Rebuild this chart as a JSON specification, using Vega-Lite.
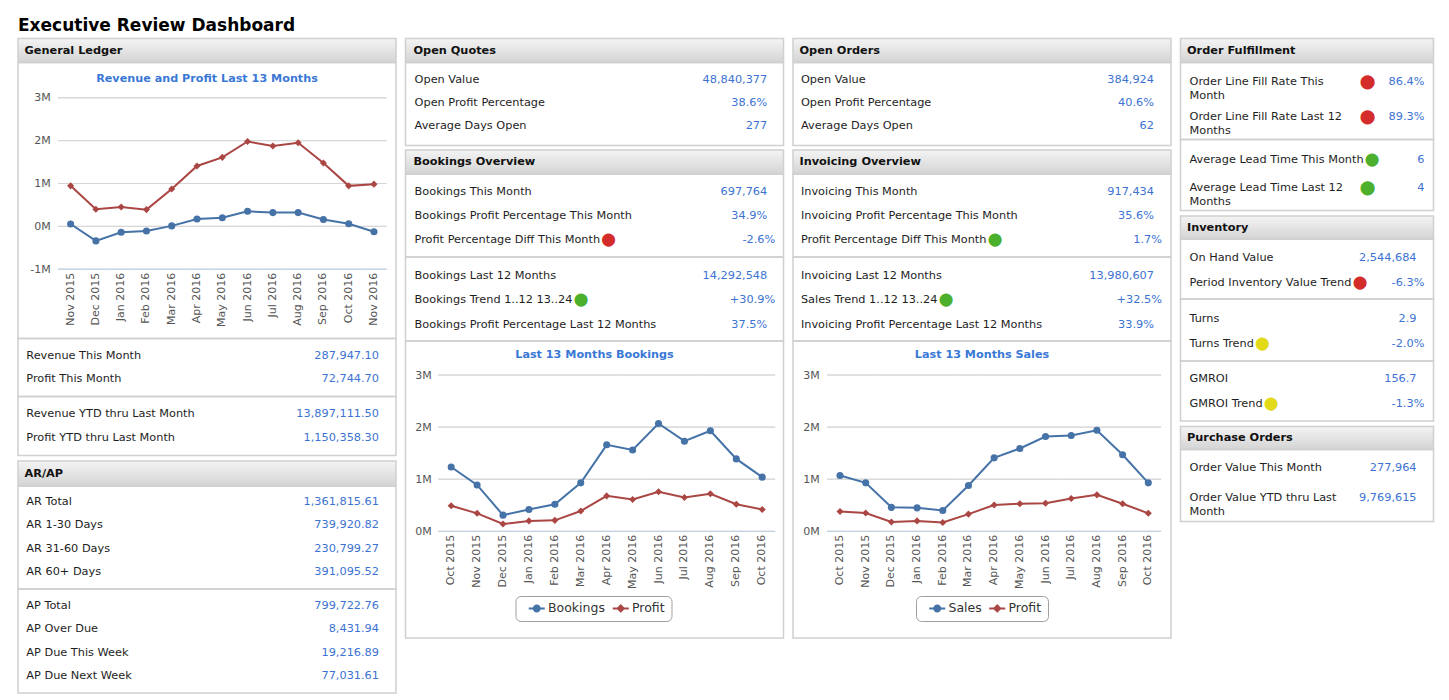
{
"$schema": "https://vega.github.io/schema/vega-lite/v6.json",
"background": "#ffffff",
"padding": {"left": 17, "top": 16.5, "right": 5, "bottom": 5},
"title": {"text": "Executive Review Dashboard", "anchor": "start", "frame": "group", "fontSize": 17, "font": "DejaVu Sans", "fontWeight": "bold", "color": "#000000", "offset": 2.5},
"config": {
  "view": {"stroke": "#d0d0d0", "strokeWidth": 1.5},
  "font": "DejaVu Sans",
  "text": {"font": "DejaVu Sans", "fontSize": 11.3, "baseline": "middle", "lineHeight": 14, "lineBreak": "\n"},
  "axis": {"labelFont": "DejaVu Sans", "labelFontSize": 11, "labelColor": "#555555"}
},
"datasets": {
  "gl": [
    {"m":"Nov 2015","s":"Profit","v":55000},{"m":"Nov 2015","s":"Revenue","v":945000},
    {"m":"Dec 2015","s":"Profit","v":-340000},{"m":"Dec 2015","s":"Revenue","v":400000},
    {"m":"Jan 2016","s":"Profit","v":-140000},{"m":"Jan 2016","s":"Revenue","v":450000},
    {"m":"Feb 2016","s":"Profit","v":-110000},{"m":"Feb 2016","s":"Revenue","v":390000},
    {"m":"Mar 2016","s":"Profit","v":10000},{"m":"Mar 2016","s":"Revenue","v":870000},
    {"m":"Apr 2016","s":"Profit","v":170000},{"m":"Apr 2016","s":"Revenue","v":1410000},
    {"m":"May 2016","s":"Profit","v":200000},{"m":"May 2016","s":"Revenue","v":1610000},
    {"m":"Jun 2016","s":"Profit","v":350000},{"m":"Jun 2016","s":"Revenue","v":1980000},
    {"m":"Jul 2016","s":"Profit","v":320000},{"m":"Jul 2016","s":"Revenue","v":1875000},
    {"m":"Aug 2016","s":"Profit","v":320000},{"m":"Aug 2016","s":"Revenue","v":1950000},
    {"m":"Sep 2016","s":"Profit","v":160000},{"m":"Sep 2016","s":"Revenue","v":1480000},
    {"m":"Oct 2016","s":"Profit","v":60000},{"m":"Oct 2016","s":"Revenue","v":945000},
    {"m":"Nov 2016","s":"Profit","v":-125000},{"m":"Nov 2016","s":"Revenue","v":985000}
  ],
  "bk": [
    {"m":"Oct 2015","s":"Bookings","v":1235000},{"m":"Oct 2015","s":"Profit","v":490000},
    {"m":"Nov 2015","s":"Bookings","v":890000},{"m":"Nov 2015","s":"Profit","v":345000},
    {"m":"Dec 2015","s":"Bookings","v":310000},{"m":"Dec 2015","s":"Profit","v":140000},
    {"m":"Jan 2016","s":"Bookings","v":420000},{"m":"Jan 2016","s":"Profit","v":200000},
    {"m":"Feb 2016","s":"Bookings","v":520000},{"m":"Feb 2016","s":"Profit","v":210000},
    {"m":"Mar 2016","s":"Bookings","v":930000},{"m":"Mar 2016","s":"Profit","v":390000},
    {"m":"Apr 2016","s":"Bookings","v":1660000},{"m":"Apr 2016","s":"Profit","v":680000},
    {"m":"May 2016","s":"Bookings","v":1560000},{"m":"May 2016","s":"Profit","v":610000},
    {"m":"Jun 2016","s":"Bookings","v":2070000},{"m":"Jun 2016","s":"Profit","v":760000},
    {"m":"Jul 2016","s":"Bookings","v":1730000},{"m":"Jul 2016","s":"Profit","v":650000},
    {"m":"Aug 2016","s":"Bookings","v":1930000},{"m":"Aug 2016","s":"Profit","v":720000},
    {"m":"Sep 2016","s":"Bookings","v":1390000},{"m":"Sep 2016","s":"Profit","v":520000},
    {"m":"Oct 2016","s":"Bookings","v":1040000},{"m":"Oct 2016","s":"Profit","v":420000}
  ],
  "sl": [
    {"m":"Oct 2015","s":"Sales","v":1070000},{"m":"Oct 2015","s":"Profit","v":380000},
    {"m":"Nov 2015","s":"Sales","v":930000},{"m":"Nov 2015","s":"Profit","v":350000},
    {"m":"Dec 2015","s":"Sales","v":460000},{"m":"Dec 2015","s":"Profit","v":180000},
    {"m":"Jan 2016","s":"Sales","v":450000},{"m":"Jan 2016","s":"Profit","v":200000},
    {"m":"Feb 2016","s":"Sales","v":400000},{"m":"Feb 2016","s":"Profit","v":170000},
    {"m":"Mar 2016","s":"Sales","v":880000},{"m":"Mar 2016","s":"Profit","v":330000},
    {"m":"Apr 2016","s":"Sales","v":1410000},{"m":"Apr 2016","s":"Profit","v":505000},
    {"m":"May 2016","s":"Sales","v":1590000},{"m":"May 2016","s":"Profit","v":530000},
    {"m":"Jun 2016","s":"Sales","v":1820000},{"m":"Jun 2016","s":"Profit","v":540000},
    {"m":"Jul 2016","s":"Sales","v":1840000},{"m":"Jul 2016","s":"Profit","v":630000},
    {"m":"Aug 2016","s":"Sales","v":1940000},{"m":"Aug 2016","s":"Profit","v":700000},
    {"m":"Sep 2016","s":"Sales","v":1470000},{"m":"Sep 2016","s":"Profit","v":530000},
    {"m":"Oct 2016","s":"Sales","v":930000},{"m":"Oct 2016","s":"Profit","v":345000}
  ],
  "kv": [
    {"sec":"gl2","row":1,"label":"Revenue This Month","value":"287,947.10"},
    {"sec":"gl2","row":2,"label":"Profit This Month","value":"72,744.70"},
    {"sec":"gl3","row":1,"label":"Revenue YTD thru Last Month","value":"13,897,111.50"},
    {"sec":"gl3","row":2,"label":"Profit YTD thru Last Month","value":"1,150,358.30"},
    {"sec":"ar1","row":1,"label":"AR Total","value":"1,361,815.61"},
    {"sec":"ar1","row":2,"label":"AR 1-30 Days","value":"739,920.82"},
    {"sec":"ar1","row":3,"label":"AR 31-60 Days","value":"230,799.27"},
    {"sec":"ar1","row":4,"label":"AR 60+ Days","value":"391,095.52"},
    {"sec":"ar2","row":1,"label":"AP Total","value":"799,722.76"},
    {"sec":"ar2","row":2,"label":"AP Over Due","value":"8,431.94"},
    {"sec":"ar2","row":3,"label":"AP Due This Week","value":"19,216.89"},
    {"sec":"ar2","row":4,"label":"AP Due Next Week","value":"77,031.61"},
    {"sec":"oq1","row":1,"label":"Open Value","value":"48,840,377"},
    {"sec":"oq1","row":2,"label":"Open Profit Percentage","value":"38.6%"},
    {"sec":"oq1","row":3,"label":"Average Days Open","value":"277"},
    {"sec":"bo1","row":1,"label":"Bookings This Month","value":"697,764"},
    {"sec":"bo1","row":2,"label":"Bookings Profit Percentage This Month","value":"34.9%"},
    {"sec":"bo1","row":3,"label":"Profit Percentage Diff This Month","value":"-2.6%","status":"red"},
    {"sec":"bo2","row":1,"label":"Bookings Last 12 Months","value":"14,292,548"},
    {"sec":"bo2","row":2,"label":"Bookings Trend 1..12 13..24","value":"+30.9%","status":"green"},
    {"sec":"bo2","row":3,"label":"Bookings Profit Percentage Last 12 Months","value":"37.5%"},
    {"sec":"oo1","row":1,"label":"Open Value","value":"384,924"},
    {"sec":"oo1","row":2,"label":"Open Profit Percentage","value":"40.6%"},
    {"sec":"oo1","row":3,"label":"Average Days Open","value":"62"},
    {"sec":"io1","row":1,"label":"Invoicing This Month","value":"917,434"},
    {"sec":"io1","row":2,"label":"Invoicing Profit Percentage This Month","value":"35.6%"},
    {"sec":"io1","row":3,"label":"Profit Percentage Diff This Month","value":"1.7%","status":"green"},
    {"sec":"io2","row":1,"label":"Invoicing Last 12 Months","value":"13,980,607"},
    {"sec":"io2","row":2,"label":"Sales Trend 1..12 13..24","value":"+32.5%","status":"green"},
    {"sec":"io2","row":3,"label":"Invoicing Profit Percentage Last 12 Months","value":"33.9%"},
    {"sec":"of1","row":1,"label":"Order Line Fill Rate This\nMonth","value":"86.4%","status":"red"},
    {"sec":"of1","row":2,"label":"Order Line Fill Rate Last 12\nMonths","value":"89.3%","status":"red"},
    {"sec":"of2","row":1,"label":"Average Lead Time This Month","value":"6","status":"green"},
    {"sec":"of2","row":2,"label":"Average Lead Time Last 12\nMonths","value":"4","status":"green"},
    {"sec":"in1","row":1,"label":"On Hand Value","value":"2,544,684"},
    {"sec":"in1","row":2,"label":"Period Inventory Value Trend","value":"-6.3%","status":"red"},
    {"sec":"in2","row":1,"label":"Turns","value":"2.9"},
    {"sec":"in2","row":2,"label":"Turns Trend","value":"-2.0%","status":"yellow"},
    {"sec":"in3","row":1,"label":"GMROI","value":"156.7"},
    {"sec":"in3","row":2,"label":"GMROI Trend","value":"-1.3%","status":"yellow"},
    {"sec":"po1","row":1,"label":"Order Value This Month","value":"277,964"},
    {"sec":"po1","row":2,"label":"Order Value YTD thru Last\nMonth","value":"9,769,615"}
  ]
},
"spacing": 7.5,
"resolve": {"scale": {"color": "independent", "shape": "independent", "stroke": "independent"}, "legend": {"color": "independent", "shape": "independent", "stroke": "independent"}},
"hconcat": [
  {"spacing": 3.5, "resolve": {"scale": {"color": "independent", "shape": "independent", "stroke": "independent"}, "legend": {"color": "independent", "shape": "independent", "stroke": "independent"}}, "vconcat": [
    {"bounds": "flush", "spacing": 0, "resolve": {"scale": {"color": "independent", "shape": "independent", "stroke": "independent"}, "legend": {"color": "independent", "shape": "independent", "stroke": "independent"}}, "vconcat": [
      {"width": 378, "height": 24, "data": {"values": [{"h": "General Ledger"}]},
       "view": {"fill": {"gradient": "linear", "x1": 0, "y1": 0, "x2": 0, "y2": 1, "stops": [{"offset": 0, "color": "#f4f4f4"}, {"offset": 1, "color": "#d4d4d4"}]}},
       "mark": {"type": "text", "align": "left", "baseline": "middle", "fontWeight": "bold", "fontSize": 11.3, "color": "#111111"},
       "encoding": {"text": {"field": "h"}, "x": {"datum": 1.72, "type": "quantitative", "scale": {"domain": [0, 100], "nice": false}, "axis": null}}},
      {"width": 378, "height": 276, "data": {"name": "gl"},
       "title": {"text": "Revenue and Profit Last 13 Months", "offset": -28, "baseline": "middle", "frame": "group", "anchor": "middle", "color": "#3a78d6", "fontSize": 11.2, "fontWeight": "bold", "font": "DejaVu Sans"},
       "encoding": {
         "x": {"field": "m", "type": "ordinal", "sort": null,
               "scale": {"type": "band", "paddingInner": 0, "paddingOuter": 0.976, "align": 0.81},
               "axis": {"orient": "bottom", "offset": -69.3, "labelAngle": -90, "domain": false, "ticks": false, "labelPadding": 3, "title": null, "grid": false, "labelOverlap": false}},
         "y": {"field": "v", "type": "quantitative", "scale": {"domain": [-2619000, 3825000], "nice": false, "zero": false},
               "axis": {"orient": "left", "offset": -40, "values": [-1000000, 0, 1000000, 2000000, 3000000], "labelExpr": "(datum.value / 1000000) + 'M'", "grid": false, "domain": false, "ticks": false, "labelPadding": 7.7, "title": null}}
       },
       "layer": [
         {"transform": [{"filter": "datum.s === 'Profit'"}], "mark": {"type": "bar", "filled": false, "color": "#d6d6d6", "strokeWidth": 1}, "encoding": {"y": {"datum": 0}, "y2": {"datum": 0}}},
         {"transform": [{"filter": "datum.s === 'Profit'"}], "mark": {"type": "bar", "filled": false, "color": "#d6d6d6", "strokeWidth": 1}, "encoding": {"y": {"datum": 1000000}, "y2": {"datum": 1000000}}},
         {"transform": [{"filter": "datum.s === 'Profit'"}], "mark": {"type": "bar", "filled": false, "color": "#d6d6d6", "strokeWidth": 1}, "encoding": {"y": {"datum": 2000000}, "y2": {"datum": 2000000}}},
         {"transform": [{"filter": "datum.s === 'Profit'"}], "mark": {"type": "bar", "filled": false, "color": "#d6d6d6", "strokeWidth": 1}, "encoding": {"y": {"datum": 3000000}, "y2": {"datum": 3000000}}},
         {"transform": [{"filter": "datum.s === 'Profit'"}], "mark": {"type": "bar", "filled": false, "color": "#c0d0e0", "strokeWidth": 1}, "encoding": {"y": {"datum": -1000000}, "y2": {"datum": -1000000}}},
         {"mark": {"type": "line", "strokeWidth": 2}, "encoding": {"color": {"field": "s", "type": "nominal", "scale": {"domain": ["Profit", "Revenue"], "range": ["#4572A7", "#AA4643"]}, "legend": null}}},
         {"mark": {"type": "point", "filled": true, "size": 50, "opacity": 1}, "encoding": {"color": {"field": "s", "type": "nominal", "legend": null}, "shape": {"field": "s", "type": "nominal", "scale": {"domain": ["Profit", "Revenue"], "range": ["circle", "diamond"]}, "legend": null}}}
       ]},
      {"width": 378, "height": 58, "data": {"name": "kv"}, "transform": [{"filter": "datum.sec === 'gl2'"}],
       "encoding": {"y": {"field": "row", "type": "ordinal", "scale": {"type": "point", "padding": 0.761, "align": 0.514}, "axis": null}},
       "layer": [
         {"mark": {"type": "text", "align": "left", "color": "#1e1e1e"}, "encoding": {"x": {"datum": 2.2, "type": "quantitative", "scale": {"domain": [0, 100], "nice": false}, "axis": null}, "text": {"field": "label"}}},
         {"mark": {"type": "text", "align": "right", "color": "#3c72d2"}, "encoding": {"x": {"datum": 95.5, "type": "quantitative", "scale": {"domain": [0, 100], "nice": false}, "axis": null}, "text": {"field": "value"}}}
       ]},
      {"width": 378, "height": 59, "data": {"name": "kv"}, "transform": [{"filter": "datum.sec === 'gl3'"}],
       "encoding": {"y": {"field": "row", "type": "ordinal", "scale": {"type": "point", "padding": 0.729, "align": 0.486}, "axis": null}},
       "layer": [
         {"mark": {"type": "text", "align": "left", "color": "#1e1e1e"}, "encoding": {"x": {"datum": 2.2, "type": "quantitative", "scale": {"domain": [0, 100], "nice": false}, "axis": null}, "text": {"field": "label"}}},
         {"mark": {"type": "text", "align": "right", "color": "#3c72d2"}, "encoding": {"x": {"datum": 95.5, "type": "quantitative", "scale": {"domain": [0, 100], "nice": false}, "axis": null}, "text": {"field": "value"}}}
       ]}
    ]},
    {"bounds": "flush", "spacing": 0, "vconcat": [
      {"width": 378, "height": 25, "data": {"values": [{"h": "AR/AP"}]},
       "view": {"fill": {"gradient": "linear", "x1": 0, "y1": 0, "x2": 0, "y2": 1, "stops": [{"offset": 0, "color": "#f4f4f4"}, {"offset": 1, "color": "#d4d4d4"}]}},
       "mark": {"type": "text", "align": "left", "baseline": "middle", "fontWeight": "bold", "fontSize": 11.3, "color": "#111111"},
       "encoding": {"text": {"field": "h"}, "x": {"datum": 1.72, "type": "quantitative", "scale": {"domain": [0, 100], "nice": false}, "axis": null}}},
      {"width": 378, "height": 103, "data": {"name": "kv"}, "transform": [{"filter": "datum.sec === 'ar1'"}],
       "encoding": {"y": {"field": "row", "type": "ordinal", "scale": {"type": "point", "padding": 0.707, "align": 0.485}, "axis": null}},
       "layer": [
         {"mark": {"type": "text", "align": "left", "color": "#1e1e1e"}, "encoding": {"x": {"datum": 2.2, "type": "quantitative", "scale": {"domain": [0, 100], "nice": false}, "axis": null}, "text": {"field": "label"}}},
         {"mark": {"type": "text", "align": "right", "color": "#3c72d2"}, "encoding": {"x": {"datum": 95.5, "type": "quantitative", "scale": {"domain": [0, 100], "nice": false}, "axis": null}, "text": {"field": "value"}}}
       ]},
      {"width": 378, "height": 104, "data": {"name": "kv"}, "transform": [{"filter": "datum.sec === 'ar2'"}],
       "encoding": {"y": {"field": "row", "type": "ordinal", "scale": {"type": "point", "padding": 0.729, "align": 0.5}, "axis": null}},
       "layer": [
         {"mark": {"type": "text", "align": "left", "color": "#1e1e1e"}, "encoding": {"x": {"datum": 2.2, "type": "quantitative", "scale": {"domain": [0, 100], "nice": false}, "axis": null}, "text": {"field": "label"}}},
         {"mark": {"type": "text", "align": "right", "color": "#3c72d2"}, "encoding": {"x": {"datum": 95.5, "type": "quantitative", "scale": {"domain": [0, 100], "nice": false}, "axis": null}, "text": {"field": "value"}}}
       ]}
    ]}
  ]},
  {"spacing": 2.5, "resolve": {"scale": {"color": "independent", "shape": "independent", "stroke": "independent"}, "legend": {"color": "independent", "shape": "independent", "stroke": "independent"}}, "vconcat": [
    {"bounds": "flush", "spacing": 0, "vconcat": [
      {"width": 378, "height": 24, "data": {"values": [{"h": "Open Quotes"}]},
       "view": {"fill": {"gradient": "linear", "x1": 0, "y1": 0, "x2": 0, "y2": 1, "stops": [{"offset": 0, "color": "#f4f4f4"}, {"offset": 1, "color": "#d4d4d4"}]}},
       "mark": {"type": "text", "align": "left", "baseline": "middle", "fontWeight": "bold", "fontSize": 11.3, "color": "#111111"},
       "encoding": {"text": {"field": "h"}, "x": {"datum": 2.1, "type": "quantitative", "scale": {"domain": [0, 100], "nice": false}, "axis": null}}},
      {"width": 378, "height": 83, "data": {"name": "kv"}, "transform": [{"filter": "datum.sec === 'oq1'"}],
       "encoding": {"y": {"field": "row", "type": "ordinal", "scale": {"type": "point", "padding": 0.789, "align": 0.473}, "axis": null}},
       "layer": [
         {"mark": {"type": "text", "align": "left", "color": "#1e1e1e"}, "encoding": {"x": {"datum": 2.4, "type": "quantitative", "scale": {"domain": [0, 100], "nice": false}, "axis": null}, "text": {"field": "label"}}},
         {"mark": {"type": "text", "align": "right", "color": "#3c72d2"}, "encoding": {"x": {"datum": 95.7, "type": "quantitative", "scale": {"domain": [0, 100], "nice": false}, "axis": null}, "text": {"field": "value"}}}
       ]}
    ]},
    {"bounds": "flush", "spacing": 0, "resolve": {"scale": {"color": "independent", "shape": "independent", "stroke": "independent"}, "legend": {"color": "independent", "shape": "independent", "stroke": "independent"}}, "vconcat": [
      {"width": 378, "height": 24, "data": {"values": [{"h": "Bookings Overview"}]},
       "view": {"fill": {"gradient": "linear", "x1": 0, "y1": 0, "x2": 0, "y2": 1, "stops": [{"offset": 0, "color": "#f4f4f4"}, {"offset": 1, "color": "#d4d4d4"}]}},
       "mark": {"type": "text", "align": "left", "baseline": "middle", "fontWeight": "bold", "fontSize": 11.3, "color": "#111111"},
       "encoding": {"text": {"field": "h"}, "x": {"datum": 2.1, "type": "quantitative", "scale": {"domain": [0, 100], "nice": false}, "axis": null}}},
      {"width": 378, "height": 83, "data": {"name": "kv"}, "transform": [{"filter": "datum.sec === 'bo1'"}],
       "encoding": {"y": {"field": "row", "type": "ordinal", "scale": {"type": "point", "padding": 0.751, "align": 0.514}, "axis": null}},
       "layer": [
         {"transform": [{"filter": "isValid(datum.status)"}, {"calculate": "datum.label + '\u2009\u2b24'", "as": "t"}], "mark": {"type": "text", "align": "left", "strokeWidth": 1.6}, "encoding": {"x": {"datum": 2.4, "type": "quantitative", "scale": {"domain": [0, 100], "nice": false}, "axis": null}, "text": {"field": "t"}, "color": {"field": "status", "type": "nominal", "scale": {"domain": ["red", "green", "yellow"], "range": ["#d42b2b", "#4cb02c", "#e2da18"]}, "legend": null}, "stroke": {"field": "status", "type": "nominal", "scale": {"domain": ["red", "green", "yellow"], "range": ["#d42b2b", "#4cb02c", "#e2da18"]}, "legend": null}}},
         {"transform": [{"filter": "isValid(datum.status)"}], "mark": {"type": "text", "align": "left", "fill": "#ffffff", "stroke": "#ffffff", "strokeWidth": 3}, "encoding": {"x": {"datum": 2.4, "type": "quantitative", "scale": {"domain": [0, 100], "nice": false}, "axis": null}, "text": {"field": "label"}}},
         {"mark": {"type": "text", "align": "left", "color": "#1e1e1e"}, "encoding": {"x": {"datum": 2.4, "type": "quantitative", "scale": {"domain": [0, 100], "nice": false}, "axis": null}, "text": {"field": "label"}}},
         {"transform": [{"filter": "!isValid(datum.status)"}], "mark": {"type": "text", "align": "right", "color": "#3c72d2"}, "encoding": {"x": {"datum": 95.7, "type": "quantitative", "scale": {"domain": [0, 100], "nice": false}, "axis": null}, "text": {"field": "value"}}},
         {"transform": [{"filter": "isValid(datum.status)"}], "mark": {"type": "text", "align": "right", "color": "#3c72d2"}, "encoding": {"x": {"datum": 97.8, "type": "quantitative", "scale": {"domain": [0, 100], "nice": false}, "axis": null}, "text": {"field": "value"}}}
       ]},
      {"width": 378, "height": 84, "data": {"name": "kv"}, "transform": [{"filter": "datum.sec === 'bo2'"}],
       "encoding": {"y": {"field": "row", "type": "ordinal", "scale": {"type": "point", "padding": 0.704, "align": 0.539}, "axis": null}},
       "layer": [
         {"transform": [{"filter": "isValid(datum.status)"}, {"calculate": "datum.label + '\u2009\u2b24'", "as": "t"}], "mark": {"type": "text", "align": "left", "strokeWidth": 1.6}, "encoding": {"x": {"datum": 2.4, "type": "quantitative", "scale": {"domain": [0, 100], "nice": false}, "axis": null}, "text": {"field": "t"}, "color": {"field": "status", "type": "nominal", "scale": {"domain": ["red", "green", "yellow"], "range": ["#d42b2b", "#4cb02c", "#e2da18"]}, "legend": null}, "stroke": {"field": "status", "type": "nominal", "scale": {"domain": ["red", "green", "yellow"], "range": ["#d42b2b", "#4cb02c", "#e2da18"]}, "legend": null}}},
         {"transform": [{"filter": "isValid(datum.status)"}], "mark": {"type": "text", "align": "left", "fill": "#ffffff", "stroke": "#ffffff", "strokeWidth": 3}, "encoding": {"x": {"datum": 2.4, "type": "quantitative", "scale": {"domain": [0, 100], "nice": false}, "axis": null}, "text": {"field": "label"}}},
         {"mark": {"type": "text", "align": "left", "color": "#1e1e1e"}, "encoding": {"x": {"datum": 2.4, "type": "quantitative", "scale": {"domain": [0, 100], "nice": false}, "axis": null}, "text": {"field": "label"}}},
         {"transform": [{"filter": "!isValid(datum.status)"}], "mark": {"type": "text", "align": "right", "color": "#3c72d2"}, "encoding": {"x": {"datum": 95.7, "type": "quantitative", "scale": {"domain": [0, 100], "nice": false}, "axis": null}, "text": {"field": "value"}}},
         {"transform": [{"filter": "isValid(datum.status)"}], "mark": {"type": "text", "align": "right", "color": "#3c72d2"}, "encoding": {"x": {"datum": 97.8, "type": "quantitative", "scale": {"domain": [0, 100], "nice": false}, "axis": null}, "text": {"field": "value"}}}
       ]},
      {"width": 378, "height": 297, "data": {"name": "bk"},
       "title": {"text": "Last 13 Months Bookings", "offset": -25, "baseline": "middle", "frame": "group", "anchor": "middle", "color": "#3a78d6", "fontSize": 11.2, "fontWeight": "bold", "font": "DejaVu Sans"},
       "encoding": {
         "x": {"field": "m", "type": "ordinal", "sort": null,
               "scale": {"type": "band", "paddingInner": 0, "paddingOuter": 0.792, "align": 0.797},
               "axis": {"orient": "bottom", "offset": -106.7, "labelAngle": -90, "domain": false, "ticks": false, "labelPadding": 3, "title": null, "grid": false, "labelOverlap": false}},
         "y": {"field": "v", "type": "quantitative", "scale": {"domain": [-2048000, 3653000], "nice": false, "zero": false},
               "axis": {"orient": "left", "offset": -32.7, "values": [0, 1000000, 2000000, 3000000], "labelExpr": "(datum.value / 1000000) + 'M'", "grid": false, "domain": false, "ticks": false, "labelPadding": 7, "title": null}}
       },
       "layer": [
         {"transform": [{"filter": "datum.s === 'Profit'"}], "mark": {"type": "bar", "filled": false, "color": "#d6d6d6", "strokeWidth": 1}, "encoding": {"y": {"datum": 1000000}, "y2": {"datum": 1000000}}},
         {"transform": [{"filter": "datum.s === 'Profit'"}], "mark": {"type": "bar", "filled": false, "color": "#d6d6d6", "strokeWidth": 1}, "encoding": {"y": {"datum": 2000000}, "y2": {"datum": 2000000}}},
         {"transform": [{"filter": "datum.s === 'Profit'"}], "mark": {"type": "bar", "filled": false, "color": "#d6d6d6", "strokeWidth": 1}, "encoding": {"y": {"datum": 3000000}, "y2": {"datum": 3000000}}},
         {"transform": [{"filter": "datum.s === 'Profit'"}], "mark": {"type": "bar", "filled": false, "color": "#c0d0e0", "strokeWidth": 1}, "encoding": {"y": {"datum": 0}, "y2": {"datum": 0}}},
         {"transform": [{"filter": "false"}], "mark": {"type": "point", "filled": true, "opacity": 1},
          "encoding": {
            "color": {"field": "s", "type": "nominal", "scale": {"domain": ["Bookings", "Profit"], "range": ["#4572A7", "#AA4643"]}, "legend": {"orient": "none", "legendX": 110, "legendY": 255, "direction": "horizontal", "title": null, "strokeColor": "#a0a0a0", "cornerRadius": 5, "padding": 6, "fillColor": "#ffffff", "labelFontSize": 12.5, "labelColor": "#333333", "labelFont": "DejaVu Sans", "symbolSize": 64, "symbolStrokeWidth": 0, "symbolOffset": 9, "labelOffset": 5, "columnPadding": 0}},
            "shape": {"field": "s", "type": "nominal", "scale": {"domain": ["Bookings", "Profit"], "range": ["M-2,-0.25H2V0.25H-2Z M1,0A1,1 0 1,1 -1,0A1,1 0 1,1 1,0Z", "M-2,-0.25H2V0.25H-2Z M0,-1.1L1.1,0L0,1.1L-1.1,0Z"]}, "legend": {"orient": "none", "legendX": 110, "legendY": 255, "direction": "horizontal", "title": null, "strokeColor": "#a0a0a0", "cornerRadius": 5, "padding": 6, "fillColor": "#ffffff", "labelFontSize": 12.5, "labelColor": "#333333", "labelFont": "DejaVu Sans", "symbolSize": 64, "symbolStrokeWidth": 0, "symbolOffset": 9, "labelOffset": 5, "columnPadding": 0}}
          }},
         {"mark": {"type": "line", "strokeWidth": 2}, "encoding": {"color": {"field": "s", "type": "nominal"}}},
         {"transform": [{"filter": "datum.s !== 'Profit'"}], "mark": {"type": "point", "filled": true, "size": 50, "opacity": 1, "shape": "circle"}, "encoding": {"color": {"field": "s", "type": "nominal", "legend": null}}},
         {"transform": [{"filter": "datum.s === 'Profit'"}], "mark": {"type": "point", "filled": true, "size": 50, "opacity": 1, "shape": "diamond"}, "encoding": {"color": {"field": "s", "type": "nominal", "legend": null}}}
       ]}
    ]}
  ]},
  {"spacing": 2.5, "resolve": {"scale": {"color": "independent", "shape": "independent", "stroke": "independent"}, "legend": {"color": "independent", "shape": "independent", "stroke": "independent"}}, "vconcat": [
    {"bounds": "flush", "spacing": 0, "vconcat": [
      {"width": 378, "height": 24, "data": {"values": [{"h": "Open Orders"}]},
       "view": {"fill": {"gradient": "linear", "x1": 0, "y1": 0, "x2": 0, "y2": 1, "stops": [{"offset": 0, "color": "#f4f4f4"}, {"offset": 1, "color": "#d4d4d4"}]}},
       "mark": {"type": "text", "align": "left", "baseline": "middle", "fontWeight": "bold", "fontSize": 11.3, "color": "#111111"},
       "encoding": {"text": {"field": "h"}, "x": {"datum": 1.72, "type": "quantitative", "scale": {"domain": [0, 100], "nice": false}, "axis": null}}},
      {"width": 378, "height": 83, "data": {"name": "kv"}, "transform": [{"filter": "datum.sec === 'oo1'"}],
       "encoding": {"y": {"field": "row", "type": "ordinal", "scale": {"type": "point", "padding": 0.789, "align": 0.473}, "axis": null}},
       "layer": [
         {"mark": {"type": "text", "align": "left", "color": "#1e1e1e"}, "encoding": {"x": {"datum": 2.1, "type": "quantitative", "scale": {"domain": [0, 100], "nice": false}, "axis": null}, "text": {"field": "label"}}},
         {"mark": {"type": "text", "align": "right", "color": "#3c72d2"}, "encoding": {"x": {"datum": 95.5, "type": "quantitative", "scale": {"domain": [0, 100], "nice": false}, "axis": null}, "text": {"field": "value"}}}
       ]}
    ]},
    {"bounds": "flush", "spacing": 0, "resolve": {"scale": {"color": "independent", "shape": "independent", "stroke": "independent"}, "legend": {"color": "independent", "shape": "independent", "stroke": "independent"}}, "vconcat": [
      {"width": 378, "height": 24, "data": {"values": [{"h": "Invoicing Overview"}]},
       "view": {"fill": {"gradient": "linear", "x1": 0, "y1": 0, "x2": 0, "y2": 1, "stops": [{"offset": 0, "color": "#f4f4f4"}, {"offset": 1, "color": "#d4d4d4"}]}},
       "mark": {"type": "text", "align": "left", "baseline": "middle", "fontWeight": "bold", "fontSize": 11.3, "color": "#111111"},
       "encoding": {"text": {"field": "h"}, "x": {"datum": 1.72, "type": "quantitative", "scale": {"domain": [0, 100], "nice": false}, "axis": null}}},
      {"width": 378, "height": 83, "data": {"name": "kv"}, "transform": [{"filter": "datum.sec === 'io1'"}],
       "encoding": {"y": {"field": "row", "type": "ordinal", "scale": {"type": "point", "padding": 0.751, "align": 0.514}, "axis": null}},
       "layer": [
         {"transform": [{"filter": "isValid(datum.status)"}, {"calculate": "datum.label + '\u2009\u2b24'", "as": "t"}], "mark": {"type": "text", "align": "left", "strokeWidth": 1.6}, "encoding": {"x": {"datum": 2.1, "type": "quantitative", "scale": {"domain": [0, 100], "nice": false}, "axis": null}, "text": {"field": "t"}, "color": {"field": "status", "type": "nominal", "scale": {"domain": ["red", "green", "yellow"], "range": ["#d42b2b", "#4cb02c", "#e2da18"]}, "legend": null}, "stroke": {"field": "status", "type": "nominal", "scale": {"domain": ["red", "green", "yellow"], "range": ["#d42b2b", "#4cb02c", "#e2da18"]}, "legend": null}}},
         {"transform": [{"filter": "isValid(datum.status)"}], "mark": {"type": "text", "align": "left", "fill": "#ffffff", "stroke": "#ffffff", "strokeWidth": 3}, "encoding": {"x": {"datum": 2.1, "type": "quantitative", "scale": {"domain": [0, 100], "nice": false}, "axis": null}, "text": {"field": "label"}}},
         {"mark": {"type": "text", "align": "left", "color": "#1e1e1e"}, "encoding": {"x": {"datum": 2.1, "type": "quantitative", "scale": {"domain": [0, 100], "nice": false}, "axis": null}, "text": {"field": "label"}}},
         {"transform": [{"filter": "!isValid(datum.status)"}], "mark": {"type": "text", "align": "right", "color": "#3c72d2"}, "encoding": {"x": {"datum": 95.5, "type": "quantitative", "scale": {"domain": [0, 100], "nice": false}, "axis": null}, "text": {"field": "value"}}},
         {"transform": [{"filter": "isValid(datum.status)"}], "mark": {"type": "text", "align": "right", "color": "#3c72d2"}, "encoding": {"x": {"datum": 97.6, "type": "quantitative", "scale": {"domain": [0, 100], "nice": false}, "axis": null}, "text": {"field": "value"}}}
       ]},
      {"width": 378, "height": 84, "data": {"name": "kv"}, "transform": [{"filter": "datum.sec === 'io2'"}],
       "encoding": {"y": {"field": "row", "type": "ordinal", "scale": {"type": "point", "padding": 0.704, "align": 0.539}, "axis": null}},
       "layer": [
         {"transform": [{"filter": "isValid(datum.status)"}, {"calculate": "datum.label + '\u2009\u2b24'", "as": "t"}], "mark": {"type": "text", "align": "left", "strokeWidth": 1.6}, "encoding": {"x": {"datum": 2.1, "type": "quantitative", "scale": {"domain": [0, 100], "nice": false}, "axis": null}, "text": {"field": "t"}, "color": {"field": "status", "type": "nominal", "scale": {"domain": ["red", "green", "yellow"], "range": ["#d42b2b", "#4cb02c", "#e2da18"]}, "legend": null}, "stroke": {"field": "status", "type": "nominal", "scale": {"domain": ["red", "green", "yellow"], "range": ["#d42b2b", "#4cb02c", "#e2da18"]}, "legend": null}}},
         {"transform": [{"filter": "isValid(datum.status)"}], "mark": {"type": "text", "align": "left", "fill": "#ffffff", "stroke": "#ffffff", "strokeWidth": 3}, "encoding": {"x": {"datum": 2.1, "type": "quantitative", "scale": {"domain": [0, 100], "nice": false}, "axis": null}, "text": {"field": "label"}}},
         {"mark": {"type": "text", "align": "left", "color": "#1e1e1e"}, "encoding": {"x": {"datum": 2.1, "type": "quantitative", "scale": {"domain": [0, 100], "nice": false}, "axis": null}, "text": {"field": "label"}}},
         {"transform": [{"filter": "!isValid(datum.status)"}], "mark": {"type": "text", "align": "right", "color": "#3c72d2"}, "encoding": {"x": {"datum": 95.5, "type": "quantitative", "scale": {"domain": [0, 100], "nice": false}, "axis": null}, "text": {"field": "value"}}},
         {"transform": [{"filter": "isValid(datum.status)"}], "mark": {"type": "text", "align": "right", "color": "#3c72d2"}, "encoding": {"x": {"datum": 97.6, "type": "quantitative", "scale": {"domain": [0, 100], "nice": false}, "axis": null}, "text": {"field": "value"}}}
       ]},
      {"width": 378, "height": 297, "data": {"name": "sl"},
       "title": {"text": "Last 13 Months Sales", "offset": -25, "baseline": "middle", "frame": "group", "anchor": "middle", "color": "#3a78d6", "fontSize": 11.2, "fontWeight": "bold", "font": "DejaVu Sans"},
       "encoding": {
         "x": {"field": "m", "type": "ordinal", "sort": null,
               "scale": {"type": "band", "paddingInner": 0, "paddingOuter": 0.857, "align": 0.776},
               "axis": {"orient": "bottom", "offset": -106.7, "labelAngle": -90, "domain": false, "ticks": false, "labelPadding": 3, "title": null, "grid": false, "labelOverlap": false}},
         "y": {"field": "v", "type": "quantitative", "scale": {"domain": [-2048000, 3653000], "nice": false, "zero": false},
               "axis": {"orient": "left", "offset": -34.15, "values": [0, 1000000, 2000000, 3000000], "labelExpr": "(datum.value / 1000000) + 'M'", "grid": false, "domain": false, "ticks": false, "labelPadding": 8, "title": null}}
       },
       "layer": [
         {"transform": [{"filter": "datum.s === 'Profit'"}], "mark": {"type": "bar", "filled": false, "color": "#d6d6d6", "strokeWidth": 1}, "encoding": {"y": {"datum": 1000000}, "y2": {"datum": 1000000}}},
         {"transform": [{"filter": "datum.s === 'Profit'"}], "mark": {"type": "bar", "filled": false, "color": "#d6d6d6", "strokeWidth": 1}, "encoding": {"y": {"datum": 2000000}, "y2": {"datum": 2000000}}},
         {"transform": [{"filter": "datum.s === 'Profit'"}], "mark": {"type": "bar", "filled": false, "color": "#d6d6d6", "strokeWidth": 1}, "encoding": {"y": {"datum": 3000000}, "y2": {"datum": 3000000}}},
         {"transform": [{"filter": "datum.s === 'Profit'"}], "mark": {"type": "bar", "filled": false, "color": "#c0d0e0", "strokeWidth": 1}, "encoding": {"y": {"datum": 0}, "y2": {"datum": 0}}},
         {"transform": [{"filter": "false"}], "mark": {"type": "point", "filled": true, "opacity": 1},
          "encoding": {
            "color": {"field": "s", "type": "nominal", "scale": {"domain": ["Sales", "Profit"], "range": ["#4572A7", "#AA4643"]}, "legend": {"orient": "none", "legendX": 123, "legendY": 255, "direction": "horizontal", "title": null, "strokeColor": "#a0a0a0", "cornerRadius": 5, "padding": 6, "fillColor": "#ffffff", "labelFontSize": 12.5, "labelColor": "#333333", "labelFont": "DejaVu Sans", "symbolSize": 64, "symbolStrokeWidth": 0, "symbolOffset": 9, "labelOffset": 5, "columnPadding": 0}},
            "shape": {"field": "s", "type": "nominal", "scale": {"domain": ["Sales", "Profit"], "range": ["M-2,-0.25H2V0.25H-2Z M1,0A1,1 0 1,1 -1,0A1,1 0 1,1 1,0Z", "M-2,-0.25H2V0.25H-2Z M0,-1.1L1.1,0L0,1.1L-1.1,0Z"]}, "legend": {"orient": "none", "legendX": 123, "legendY": 255, "direction": "horizontal", "title": null, "strokeColor": "#a0a0a0", "cornerRadius": 5, "padding": 6, "fillColor": "#ffffff", "labelFontSize": 12.5, "labelColor": "#333333", "labelFont": "DejaVu Sans", "symbolSize": 64, "symbolStrokeWidth": 0, "symbolOffset": 9, "labelOffset": 5, "columnPadding": 0}}
          }},
         {"mark": {"type": "line", "strokeWidth": 2}, "encoding": {"color": {"field": "s", "type": "nominal"}}},
         {"transform": [{"filter": "datum.s !== 'Profit'"}], "mark": {"type": "point", "filled": true, "size": 50, "opacity": 1, "shape": "circle"}, "encoding": {"color": {"field": "s", "type": "nominal", "legend": null}}},
         {"transform": [{"filter": "datum.s === 'Profit'"}], "mark": {"type": "point", "filled": true, "size": 50, "opacity": 1, "shape": "diamond"}, "encoding": {"color": {"field": "s", "type": "nominal", "legend": null}}}
       ]}
    ]}
  ]},
  {"spacing": 3.5, "resolve": {"scale": {"color": "independent", "shape": "independent", "stroke": "independent"}, "legend": {"color": "independent", "shape": "independent", "stroke": "independent"}}, "vconcat": [
    {"bounds": "flush", "spacing": 0, "resolve": {"scale": {"color": "independent", "shape": "independent", "stroke": "independent"}, "legend": {"color": "independent", "shape": "independent", "stroke": "independent"}}, "vconcat": [
      {"width": 253, "height": 24, "data": {"values": [{"h": "Order Fulfillment"}]},
       "view": {"fill": {"gradient": "linear", "x1": 0, "y1": 0, "x2": 0, "y2": 1, "stops": [{"offset": 0, "color": "#f4f4f4"}, {"offset": 1, "color": "#d4d4d4"}]}},
       "mark": {"type": "text", "align": "left", "baseline": "middle", "fontWeight": "bold", "fontSize": 11.3, "color": "#111111"},
       "encoding": {"text": {"field": "h"}, "x": {"datum": 2.57, "type": "quantitative", "scale": {"domain": [0, 100], "nice": false}, "axis": null}}},
      {"width": 253, "height": 77, "data": {"name": "kv"}, "transform": [{"filter": "datum.sec === 'of1'"}],
       "encoding": {"y": {"field": "row", "type": "ordinal", "scale": {"type": "point", "padding": 0.6, "align": 0.476}, "axis": null}},
       "layer": [
         {"transform": [{"filter": "isValid(datum.status) && indexof(datum.label, '\\n') >= 0"}, {"calculate": "'\u2b24'", "as": "t"}], "mark": {"type": "text", "align": "center", "fontSize": 14}, "encoding": {"x": {"datum": 73.9, "type": "quantitative", "scale": {"domain": [0, 100], "nice": false}, "axis": null}, "text": {"field": "t"}, "color": {"field": "status", "type": "nominal", "scale": {"domain": ["red", "green", "yellow"], "range": ["#d42b2b", "#4cb02c", "#e2da18"]}, "legend": null}}},
         {"mark": {"type": "text", "align": "left", "color": "#1e1e1e"}, "encoding": {"x": {"datum": 3.56, "type": "quantitative", "scale": {"domain": [0, 100], "nice": false}, "axis": null}, "text": {"field": "label"}}},
         {"mark": {"type": "text", "align": "right", "color": "#3c72d2"}, "encoding": {"x": {"datum": 96.4, "type": "quantitative", "scale": {"domain": [0, 100], "nice": false}, "axis": null}, "text": {"field": "value"}}}
       ]},
      {"width": 253, "height": 71, "data": {"name": "kv"}, "transform": [{"filter": "datum.sec === 'of2'"}],
       "encoding": {"y": {"field": "row", "type": "ordinal", "scale": {"type": "point", "padding": 0.768, "align": 0.488}, "axis": null}},
       "layer": [
         {"transform": [{"filter": "isValid(datum.status) && indexof(datum.label, '\\n') < 0"}, {"calculate": "datum.label + '\u2009\u2b24'", "as": "t"}], "mark": {"type": "text", "align": "left", "strokeWidth": 1.6}, "encoding": {"x": {"datum": 3.56, "type": "quantitative", "scale": {"domain": [0, 100], "nice": false}, "axis": null}, "text": {"field": "t"}, "color": {"field": "status", "type": "nominal", "scale": {"domain": ["red", "green", "yellow"], "range": ["#d42b2b", "#4cb02c", "#e2da18"]}, "legend": null}, "stroke": {"field": "status", "type": "nominal", "scale": {"domain": ["red", "green", "yellow"], "range": ["#d42b2b", "#4cb02c", "#e2da18"]}, "legend": null}}},
         {"transform": [{"filter": "isValid(datum.status) && indexof(datum.label, '\\n') < 0"}], "mark": {"type": "text", "align": "left", "fill": "#ffffff", "stroke": "#ffffff", "strokeWidth": 3}, "encoding": {"x": {"datum": 3.56, "type": "quantitative", "scale": {"domain": [0, 100], "nice": false}, "axis": null}, "text": {"field": "label"}}},
         {"transform": [{"filter": "isValid(datum.status) && indexof(datum.label, '\\n') >= 0"}, {"calculate": "'\u2b24'", "as": "t"}], "mark": {"type": "text", "align": "center", "fontSize": 14}, "encoding": {"x": {"datum": 73.9, "type": "quantitative", "scale": {"domain": [0, 100], "nice": false}, "axis": null}, "text": {"field": "t"}, "color": {"field": "status", "type": "nominal", "scale": {"domain": ["red", "green", "yellow"], "range": ["#d42b2b", "#4cb02c", "#e2da18"]}, "legend": null}}},
         {"mark": {"type": "text", "align": "left", "color": "#1e1e1e"}, "encoding": {"x": {"datum": 3.56, "type": "quantitative", "scale": {"domain": [0, 100], "nice": false}, "axis": null}, "text": {"field": "label"}}},
         {"mark": {"type": "text", "align": "right", "color": "#3c72d2"}, "encoding": {"x": {"datum": 96.4, "type": "quantitative", "scale": {"domain": [0, 100], "nice": false}, "axis": null}, "text": {"field": "value"}}}
       ]}
    ]},
    {"bounds": "flush", "spacing": 0, "resolve": {"scale": {"color": "independent", "shape": "independent", "stroke": "independent"}, "legend": {"color": "independent", "shape": "independent", "stroke": "independent"}}, "vconcat": [
      {"width": 253, "height": 23, "data": {"values": [{"h": "Inventory"}]},
       "view": {"fill": {"gradient": "linear", "x1": 0, "y1": 0, "x2": 0, "y2": 1, "stops": [{"offset": 0, "color": "#f4f4f4"}, {"offset": 1, "color": "#d4d4d4"}]}},
       "mark": {"type": "text", "align": "left", "baseline": "middle", "fontWeight": "bold", "fontSize": 11.3, "color": "#111111"},
       "encoding": {"text": {"field": "h"}, "x": {"datum": 2.57, "type": "quantitative", "scale": {"domain": [0, 100], "nice": false}, "axis": null}}},
      {"width": 253, "height": 60, "data": {"name": "kv"}, "transform": [{"filter": "datum.sec === 'in1'"}],
       "encoding": {"y": {"field": "row", "type": "ordinal", "scale": {"type": "point", "padding": 0.715, "align": 0.538}, "axis": null}},
       "layer": [
         {"transform": [{"filter": "isValid(datum.status)"}, {"calculate": "datum.label + '\u2009\u2b24'", "as": "t"}], "mark": {"type": "text", "align": "left", "strokeWidth": 1.6}, "encoding": {"x": {"datum": 3.56, "type": "quantitative", "scale": {"domain": [0, 100], "nice": false}, "axis": null}, "text": {"field": "t"}, "color": {"field": "status", "type": "nominal", "scale": {"domain": ["red", "green", "yellow"], "range": ["#d42b2b", "#4cb02c", "#e2da18"]}, "legend": null}, "stroke": {"field": "status", "type": "nominal", "scale": {"domain": ["red", "green", "yellow"], "range": ["#d42b2b", "#4cb02c", "#e2da18"]}, "legend": null}}},
         {"transform": [{"filter": "isValid(datum.status)"}], "mark": {"type": "text", "align": "left", "fill": "#ffffff", "stroke": "#ffffff", "strokeWidth": 3}, "encoding": {"x": {"datum": 3.56, "type": "quantitative", "scale": {"domain": [0, 100], "nice": false}, "axis": null}, "text": {"field": "label"}}},
         {"mark": {"type": "text", "align": "left", "color": "#1e1e1e"}, "encoding": {"x": {"datum": 3.56, "type": "quantitative", "scale": {"domain": [0, 100], "nice": false}, "axis": null}, "text": {"field": "label"}}},
         {"transform": [{"filter": "!isValid(datum.status)"}], "mark": {"type": "text", "align": "right", "color": "#3c72d2"}, "encoding": {"x": {"datum": 93.3, "type": "quantitative", "scale": {"domain": [0, 100], "nice": false}, "axis": null}, "text": {"field": "value"}}},
         {"transform": [{"filter": "isValid(datum.status)"}], "mark": {"type": "text", "align": "right", "color": "#3c72d2"}, "encoding": {"x": {"datum": 96.4, "type": "quantitative", "scale": {"domain": [0, 100], "nice": false}, "axis": null}, "text": {"field": "value"}}}
       ]},
      {"width": 253, "height": 62, "data": {"name": "kv"}, "transform": [{"filter": "datum.sec === 'in2'"}],
       "encoding": {"y": {"field": "row", "type": "ordinal", "scale": {"type": "point", "padding": 0.74, "align": 0.532}, "axis": null}},
       "layer": [
         {"transform": [{"filter": "isValid(datum.status)"}, {"calculate": "datum.label + '\u2009\u2b24'", "as": "t"}], "mark": {"type": "text", "align": "left", "strokeWidth": 1.6}, "encoding": {"x": {"datum": 3.56, "type": "quantitative", "scale": {"domain": [0, 100], "nice": false}, "axis": null}, "text": {"field": "t"}, "color": {"field": "status", "type": "nominal", "scale": {"domain": ["red", "green", "yellow"], "range": ["#d42b2b", "#4cb02c", "#e2da18"]}, "legend": null}, "stroke": {"field": "status", "type": "nominal", "scale": {"domain": ["red", "green", "yellow"], "range": ["#d42b2b", "#4cb02c", "#e2da18"]}, "legend": null}}},
         {"transform": [{"filter": "isValid(datum.status)"}], "mark": {"type": "text", "align": "left", "fill": "#ffffff", "stroke": "#ffffff", "strokeWidth": 3}, "encoding": {"x": {"datum": 3.56, "type": "quantitative", "scale": {"domain": [0, 100], "nice": false}, "axis": null}, "text": {"field": "label"}}},
         {"mark": {"type": "text", "align": "left", "color": "#1e1e1e"}, "encoding": {"x": {"datum": 3.56, "type": "quantitative", "scale": {"domain": [0, 100], "nice": false}, "axis": null}, "text": {"field": "label"}}},
         {"transform": [{"filter": "!isValid(datum.status)"}], "mark": {"type": "text", "align": "right", "color": "#3c72d2"}, "encoding": {"x": {"datum": 93.3, "type": "quantitative", "scale": {"domain": [0, 100], "nice": false}, "axis": null}, "text": {"field": "value"}}},
         {"transform": [{"filter": "isValid(datum.status)"}], "mark": {"type": "text", "align": "right", "color": "#3c72d2"}, "encoding": {"x": {"datum": 96.4, "type": "quantitative", "scale": {"domain": [0, 100], "nice": false}, "axis": null}, "text": {"field": "value"}}}
       ]},
      {"width": 253, "height": 60, "data": {"name": "kv"}, "transform": [{"filter": "datum.sec === 'in3'"}],
       "encoding": {"y": {"field": "row", "type": "ordinal", "scale": {"type": "point", "padding": 0.7, "align": 0.523}, "axis": null}},
       "layer": [
         {"transform": [{"filter": "isValid(datum.status)"}, {"calculate": "datum.label + '\u2009\u2b24'", "as": "t"}], "mark": {"type": "text", "align": "left", "strokeWidth": 1.6}, "encoding": {"x": {"datum": 3.56, "type": "quantitative", "scale": {"domain": [0, 100], "nice": false}, "axis": null}, "text": {"field": "t"}, "color": {"field": "status", "type": "nominal", "scale": {"domain": ["red", "green", "yellow"], "range": ["#d42b2b", "#4cb02c", "#e2da18"]}, "legend": null}, "stroke": {"field": "status", "type": "nominal", "scale": {"domain": ["red", "green", "yellow"], "range": ["#d42b2b", "#4cb02c", "#e2da18"]}, "legend": null}}},
         {"transform": [{"filter": "isValid(datum.status)"}], "mark": {"type": "text", "align": "left", "fill": "#ffffff", "stroke": "#ffffff", "strokeWidth": 3}, "encoding": {"x": {"datum": 3.56, "type": "quantitative", "scale": {"domain": [0, 100], "nice": false}, "axis": null}, "text": {"field": "label"}}},
         {"mark": {"type": "text", "align": "left", "color": "#1e1e1e"}, "encoding": {"x": {"datum": 3.56, "type": "quantitative", "scale": {"domain": [0, 100], "nice": false}, "axis": null}, "text": {"field": "label"}}},
         {"transform": [{"filter": "!isValid(datum.status)"}], "mark": {"type": "text", "align": "right", "color": "#3c72d2"}, "encoding": {"x": {"datum": 93.3, "type": "quantitative", "scale": {"domain": [0, 100], "nice": false}, "axis": null}, "text": {"field": "value"}}},
         {"transform": [{"filter": "isValid(datum.status)"}], "mark": {"type": "text", "align": "right", "color": "#3c72d2"}, "encoding": {"x": {"datum": 96.4, "type": "quantitative", "scale": {"domain": [0, 100], "nice": false}, "axis": null}, "text": {"field": "value"}}}
       ]}
    ]},
    {"bounds": "flush", "spacing": 0, "vconcat": [
      {"width": 253, "height": 23, "data": {"values": [{"h": "Purchase Orders"}]},
       "view": {"fill": {"gradient": "linear", "x1": 0, "y1": 0, "x2": 0, "y2": 1, "stops": [{"offset": 0, "color": "#f4f4f4"}, {"offset": 1, "color": "#d4d4d4"}]}},
       "mark": {"type": "text", "align": "left", "baseline": "middle", "fontWeight": "bold", "fontSize": 11.3, "color": "#111111"},
       "encoding": {"text": {"field": "h"}, "x": {"datum": 2.57, "type": "quantitative", "scale": {"domain": [0, 100], "nice": false}, "axis": null}}},
      {"width": 253, "height": 72, "data": {"name": "kv"}, "transform": [{"filter": "datum.sec === 'po1'"}],
       "encoding": {"y": {"field": "row", "type": "ordinal", "scale": {"type": "point", "padding": 0.7, "align": 0.445}, "axis": null}},
       "layer": [
         {"mark": {"type": "text", "align": "left", "color": "#1e1e1e"}, "encoding": {"x": {"datum": 3.56, "type": "quantitative", "scale": {"domain": [0, 100], "nice": false}, "axis": null}, "text": {"field": "label"}}},
         {"mark": {"type": "text", "align": "right", "color": "#3c72d2"}, "encoding": {"x": {"datum": 93.3, "type": "quantitative", "scale": {"domain": [0, 100], "nice": false}, "axis": null}, "text": {"field": "value"}}}
       ]}
    ]}
  ]}
]
}
